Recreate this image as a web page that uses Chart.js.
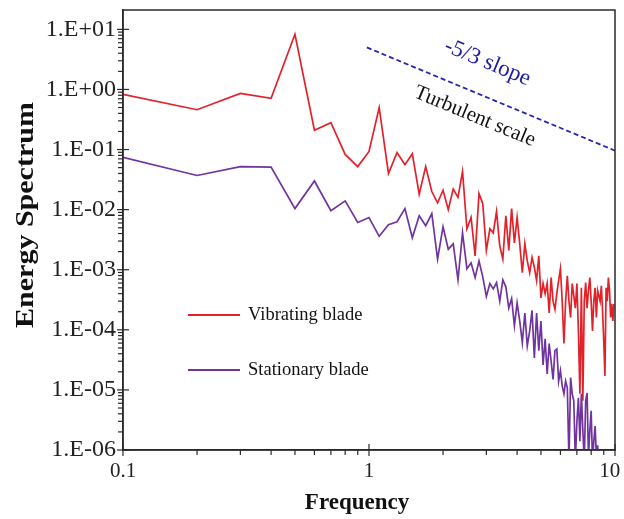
<!DOCTYPE html>
<html>
<head>
<meta charset="utf-8">
<script src="https://cdn.jsdelivr.net/npm/chart.js@4.4.0/dist/chart.umd.min.js"></script>
<style>
  html, body { margin: 0; padding: 0; background: #fff; }
  #wrap { width: 624px; height: 519px; }
</style>
</head>
<body>
<div id="wrap"><canvas id="spectrumChart"></canvas></div>
<script>
// frequency samples (0.1 step)
const freq = [
  0.1, 0.2, 0.3, 0.4, 0.5, 0.6, 0.7, 0.8, 0.9,
  1.0, 1.1, 1.2, 1.3, 1.4, 1.5, 1.6, 1.7, 1.8, 1.9,
  2.0, 2.1, 2.2, 2.3, 2.4, 2.5, 2.6, 2.7, 2.8, 2.9,
  3.0, 3.1, 3.2, 3.3, 3.4, 3.5, 3.6, 3.7, 3.8, 3.9,
  4.0, 4.1, 4.2, 4.3, 4.4, 4.5, 4.6, 4.7, 4.8, 4.9,
  5.0, 5.1, 5.2, 5.3, 5.4, 5.5, 5.6, 5.7, 5.8, 5.9,
  6.0, 6.1, 6.2, 6.3, 6.4, 6.5, 6.6, 6.7, 6.8, 6.9,
  7.0, 7.1, 7.2, 7.3, 7.4, 7.5, 7.6, 7.7, 7.8, 7.9,
  8.0, 8.1, 8.2, 8.3, 8.4, 8.5, 8.6, 8.7, 8.8, 8.9,
  9.0, 9.1, 9.2, 9.3, 9.4, 9.5, 9.6, 9.7, 9.8, 9.9
];

const vibrating = [
  0.83, 0.46, 0.86, 0.71, 8.3, 0.21, 0.28, 0.083, 0.052,
  0.093, 0.50, 0.040, 0.089, 0.056, 0.085, 0.018, 0.052, 0.020, 0.013,
  0.021, 0.010, 0.022, 0.016, 0.043, 0.0048, 0.0074, 0.0017, 0.0185, 0.0126,
  0.0021, 0.0048, 0.0041, 0.0093, 0.0025, 0.0015, 0.0079, 0.0021, 0.0104, 0.0028,
  0.0074, 0.0027, 0.00089, 0.0027, 0.0014, 0.00089, 0.0016, 0.0011, 0.00066, 0.0017,
  0.00034, 0.00059, 0.00040, 0.00059, 0.00019, 0.00074, 0.00030, 0.00022, 0.00040, 0.00066,
  0.00104, 0.00030, 0.000059, 0.00030, 0.00079, 0.00030, 0.00016, 0.00059, 0.00037, 0.00023,
  0.00059, 0.000096, 0.0000086, 0.00050, 0.0000066, 0.00030, 0.00061, 0.00023, 0.00045, 0.00074,
  0.00030, 0.000096, 0.00030, 0.00050, 0.00016, 0.00045, 0.00037, 0.00030, 0.00054, 0.00021,
  0.000066, 0.000017, 0.00050, 0.00030, 0.00074, 0.00045, 0.00016, 0.00027, 0.00014, 0.00027
];

// stationary blade drops under the axis after ~8.6
const stationary = [
  0.074, 0.037, 0.052, 0.051, 0.0104, 0.030, 0.0096, 0.014, 0.0061,
  0.0074, 0.0036, 0.0056, 0.0063, 0.0104, 0.0034, 0.0079, 0.0054, 0.0086, 0.0015,
  0.0052, 0.0022, 0.0027, 0.00068, 0.0041, 0.00104, 0.0013, 0.00074, 0.0014, 0.00076,
  0.00036, 0.00059, 0.00048, 0.00061, 0.00030, 0.00068, 0.00052, 0.00023, 0.00033, 0.000117,
  0.00028, 0.00014, 0.000061, 0.00019, 0.000054, 0.000096, 0.00021, 0.000034, 0.00019, 0.000045,
  0.00014, 0.000026, 0.000071, 0.0000185, 0.000059, 0.000030, 0.000015, 0.000045, 0.000048, 0.000014,
  0.000021, 0.0000117, 0.0000086, 0.000014, 0.0000108, 0.00000066, 0.000016, 0.0000086, 0.0000066, 0.00000066,
  0.0000030, 0.0000074, 0.0000014, 0.0000086, 0.0000021, 0.00000066, 0.0000066, 0.0000089, 0.00000079, 0.0000021,
  0.0000045, 0.00000066, 0.0000014, 0.0000025, 0.00000079, 0.0000012, 0.00000054
];

// -5/3 reference line
const slopeX = [0.98, 10];
const slopeY = [5.0, 0.096];

const xTicks = [0.1, 1, 10];
const yTicks = [1e-6, 1e-5, 1e-4, 1e-3, 1e-2, 1e-1, 1e0, 1e1];

const seriesNames = ['Vibrating blade', 'Stationary blade'];
const seriesColors = ['#e2222a', '#7034a0'];

const serif = "'Liberation Serif', 'Times New Roman', serif";

function toPoints(xs, ys) {
  return ys.map((v, i) => ({ x: xs[i], y: v }));
}

function expLabel(v) {
  const e = Math.round(Math.log10(v));
  const s = Math.abs(e) < 10 ? '0' + Math.abs(e) : '' + Math.abs(e);
  return '1.E' + (e < 0 ? '-' : '+') + s;
}

// box, log tick marks, legend, annotations and axis titles
const decorations = {
  id: 'decorations',
  afterDraw(chart) {
    const { ctx, chartArea: a, scales } = chart;
    const x = scales.x, y = scales.y;
    const seg = (x0, y0, x1, y1) => {
      ctx.beginPath(); ctx.moveTo(x0, y0); ctx.lineTo(x1, y1); ctx.stroke();
    };
    ctx.save();
    ctx.strokeStyle = '#2a2a2a';
    ctx.lineWidth = 1.5;
    ctx.strokeRect(a.left, a.top, a.right - a.left, a.bottom - a.top);

    ctx.lineWidth = 1.2;
    for (let e = -6; e <= 1; e++) {
      const py = y.getPixelForValue(Math.pow(10, e));
      seg(a.left - 6, py, a.left + 6, py);
      if (e < 1) {
        for (let k = 2; k <= 9; k++) {
          const p = y.getPixelForValue(k * Math.pow(10, e));
          seg(a.left - 5, p, a.left, p);
        }
      }
    }
    for (let e = -1; e <= 1; e++) {
      const px = x.getPixelForValue(Math.pow(10, e));
      seg(px, a.bottom - 6, px, a.bottom + 6);
      if (e < 1) {
        for (let k = 2; k <= 9; k++) {
          const p = x.getPixelForValue(k * Math.pow(10, e));
          seg(p, a.bottom, p, a.bottom + 5);
        }
      }
    }

    // legend inside the plot
    ctx.font = '18.5px ' + serif;
    ctx.textBaseline = 'middle';
    ctx.textAlign = 'left';
    const legendY = [315, 370];
    seriesNames.forEach((name, i) => {
      ctx.strokeStyle = seriesColors[i];
      ctx.lineWidth = 1.8;
      seg(188, legendY[i], 240, legendY[i]);
      ctx.fillStyle = '#111';
      ctx.fillText(name, 248, legendY[i]);
    });

    // annotations along the slope line
    const sx0 = x.getPixelForValue(slopeX[0]), sy0 = y.getPixelForValue(slopeY[0]);
    const sx1 = x.getPixelForValue(slopeX[1]), sy1 = y.getPixelForValue(slopeY[1]);
    const ang = Math.atan2(sy1 - sy0, sx1 - sx0);
    const note = (text, fx, fy, color, size) => {
      ctx.save();
      ctx.translate(x.getPixelForValue(fx), y.getPixelForValue(fy));
      ctx.rotate(ang);
      ctx.font = size + 'px ' + serif;
      ctx.fillStyle = color;
      ctx.textAlign = 'center';
      ctx.fillText(text, 0, 0);
      ctx.restore();
    };
    note('-5/3 slope', 3.03, 2.8, '#1c1ca8', 23);
    note('Turbulent scale', 2.69, 0.355, '#111', 21);

    // axis titles
    ctx.fillStyle = '#111';
    ctx.font = 'bold 23px ' + serif;
    ctx.textAlign = 'center';
    ctx.fillText('Frequency', 357, 503);
    ctx.save();
    ctx.translate(27, 215);
    ctx.rotate(-Math.PI / 2);
    ctx.scale(1.2, 1);
    ctx.font = 'bold 25px ' + serif;
    ctx.fillText('Energy Spectrum', 0, 0);
    ctx.restore();

    ctx.restore();
  }
};

document.addEventListener('DOMContentLoaded', function () {
  const ctx = document.getElementById('spectrumChart').getContext('2d');
  new Chart(ctx, {
    type: 'scatter',
    data: {
      datasets: [
        {
          label: seriesNames[0],
          data: toPoints(freq, vibrating),
          borderColor: seriesColors[0],
          backgroundColor: seriesColors[0],
          borderWidth: 1.7,
          showLine: true,
          pointRadius: 0,
          order: 2,
        },
        {
          label: seriesNames[1],
          data: toPoints(freq, stationary),
          borderColor: seriesColors[1],
          backgroundColor: seriesColors[1],
          borderWidth: 1.7,
          showLine: true,
          pointRadius: 0,
          order: 1,
        },
        {
          label: '-5/3 slope',
          data: toPoints(slopeX, slopeY),
          borderColor: '#2626b0',
          borderWidth: 1.8,
          borderDash: [5, 3],
          showLine: true,
          pointRadius: 0,
          order: 3,
        },
      ],
    },
    options: {
      responsive: true,
      maintainAspectRatio: false,
      animation: false,
      layout: { padding: { top: 10, right: 9, left: 0, bottom: 0 } },
      plugins: {
        legend: { display: false },
        tooltip: { enabled: false },
      },
      scales: {
        x: {
          type: 'logarithmic',
          min: 0.1,
          max: 10,
          grid: { display: false, drawTicks: false },
          border: { display: true, color: '#2a2a2a', width: 1.5 },
          afterBuildTicks: (s) => { s.ticks = xTicks.map((v) => ({ value: v })); },
          afterFit: (s) => { s.height = 69; s.paddingLeft = 0; s.paddingRight = 0; },
          ticks: {
            color: '#222',
            font: { family: serif, size: 21 },
            padding: 9,
            maxRotation: 0,
            // en space keeps the last label inside the canvas
            callback: (v) => (v === 10 ? '10\u2002' : String(v)),
          },
        },
        y: {
          type: 'logarithmic',
          min: 1e-6,
          max: 21,
          grid: { display: false, drawTicks: false },
          border: { display: true, color: '#2a2a2a', width: 1.5 },
          afterBuildTicks: (s) => { s.ticks = yTicks.map((v) => ({ value: v })); },
          afterFit: (s) => { s.width = 123; s.paddingTop = 0; s.paddingBottom = 0; },
          ticks: {
            color: '#222',
            font: { family: serif, size: 24 },
            padding: 7,
            callback: (v) => expLabel(v),
          },
        },
      },
    },
    plugins: [decorations],
  });
});
</script>
</body>
</html>
